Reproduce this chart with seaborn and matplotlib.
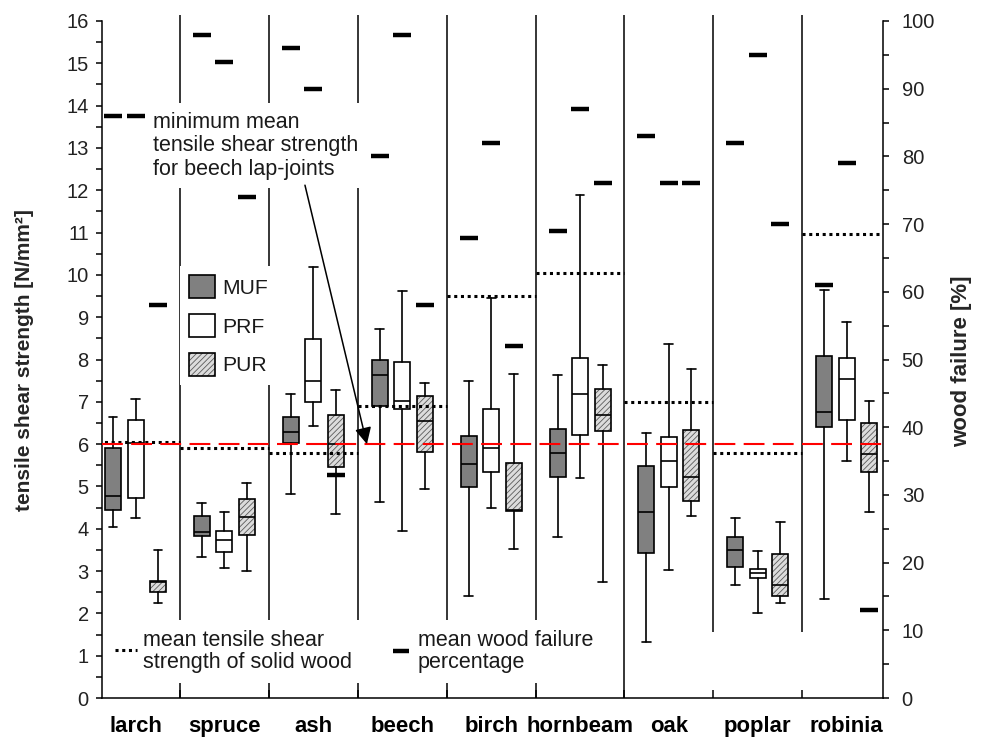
import numpy as np
import pandas as pd
import matplotlib
matplotlib.use("Agg")
import matplotlib.pyplot as plt
from matplotlib.patches import Patch
from matplotlib.legend_handler import HandlerTuple
from matplotlib.ticker import MultipleLocator, FixedLocator
import seaborn as sns

# ---------------- data ----------------
species = ["larch", "spruce", "ash", "beech", "birch", "hornbeam", "oak", "poplar", "robinia"]
adhesives = ["MUF", "PRF", "PUR"]

# tensile shear strength box statistics [N/mm²]
muf_whislo = [4.05, 3.34, 4.82, 4.64, 2.42, 3.81, 1.33, 2.68, 2.33]
muf_q1     = [4.44, 3.84, 6.02, 6.91, 4.99, 5.23, 3.42, 3.10, 6.41]
muf_med    = [4.78, 3.92, 6.28, 7.64, 5.52, 5.78, 4.40, 3.50, 6.76]
muf_q3     = [5.92, 4.29, 6.63, 7.99, 6.19, 6.35, 5.49, 3.81, 8.08]
muf_whishi = [6.63, 4.60, 7.18, 8.71, 7.50, 7.64, 6.27, 4.25, 9.64]

prf_whislo = [4.26, 3.08, 6.43, 3.95, 4.50, 5.21, 3.03, 2.02, 5.61]
prf_q1     = [4.72, 3.44, 6.99, 6.83, 5.35, 6.21, 4.99, 2.84, 6.56]
prf_med    = [6.02, 3.73, 7.50, 7.02, 5.90, 7.18, 5.59, 2.95, 7.54]
prf_q3     = [6.58, 3.95, 8.49, 7.93, 6.84, 8.04, 6.16, 3.04, 8.03]
prf_whishi = [7.07, 4.40, 10.19, 9.62, 9.46, 11.88, 8.37, 3.48, 8.89]

pur_whislo = [2.24, 3.01, 4.34, 4.94, 3.52, 2.75, 4.29, 2.24, 4.40]
pur_q1     = [2.50, 3.85, 5.47, 5.82, 4.42, 6.30, 4.66, 2.42, 5.34]
pur_med    = [2.73, 4.27, 6.00, 6.55, 4.44, 6.70, 5.23, 2.66, 5.76]
pur_q3     = [2.77, 4.70, 6.69, 7.14, 5.55, 7.31, 6.33, 3.40, 6.51]
pur_whishi = [3.50, 5.09, 7.28, 7.45, 7.65, 7.88, 7.78, 4.17, 7.03]

# mean wood failure percentage [%]
wf_muf = [86, 98, 96, 80, 68, 69, 83, 82, 61]
wf_prf = [86, 94, 90, 98, 82, 87, 76, 95, 79]
wf_pur = [58, 74, 33, 58, 52, 76, 76, 70, 13]

# mean tensile shear strength of solid wood [N/mm²]
solid_wood = [6.04, 5.92, 5.78, 6.91, 9.49, 10.05, 7.00, 5.78, 10.96]
# minimum mean tensile shear strength for beech lap-joints
min_beech = 6.0

# ---------------- style ----------------
sns.set_theme(style="ticks")
plt.rcParams["font.family"] = ["Liberation Sans", "DejaVu Sans"]
plt.rcParams["hatch.linewidth"] = 0.6

fig = plt.figure(figsize=(9.83, 7.39), dpi=100)
W, H = 983, 739
ax = fig.add_axes([102 / W, 1 - 698 / H, 781 / W, 677 / H])
ax2 = ax.twinx()

n = len(species)
xs = np.arange(n)
offsets = {"MUF": -0.253, "PRF": 0.0, "PUR": 0.253}
stats_src = {
    "MUF": (muf_whislo, muf_q1, muf_med, muf_q3, muf_whishi),
    "PRF": (prf_whislo, prf_q1, prf_med, prf_q3, prf_whishi),
    "PUR": (pur_whislo, pur_q1, pur_med, pur_q3, pur_whishi),
}
fills = {"MUF": "#808080", "PRF": "white", "PUR": "#dcdcdc"}

lw = 1.2
for adh in adhesives:
    lo, q1, med, q3, hi = stats_src[adh]
    stats = [dict(whislo=lo[i], q1=q1[i], med=med[i], q3=q3[i], whishi=hi[i], fliers=[])
             for i in range(n)]
    pos = xs + offsets[adh]
    if adh == "PUR":
        # hatched fill underneath
        ax.bxp(stats, positions=pos, widths=0.18, patch_artist=True, showfliers=False,
               showcaps=False, manage_ticks=False,
               boxprops=dict(facecolor=fills[adh], edgecolor="#5a5a5a", hatch="//////", linewidth=0),
               whiskerprops=dict(linewidth=0), medianprops=dict(linewidth=0), zorder=3)
        face = "none"
    else:
        face = fills[adh]
    ax.bxp(stats, positions=pos, widths=0.18, patch_artist=True, showfliers=False,
           manage_ticks=False, capwidths=0.1,
           boxprops=dict(facecolor=face, edgecolor="black", linewidth=lw),
           whiskerprops=dict(color="black", linewidth=lw),
           capprops=dict(color="black", linewidth=lw),
           medianprops=dict(color="black", linewidth=lw), zorder=4)

# separators between species
bounds = xs[:-1] + 0.5
ymins = [0, 0, 0, 0, 0, 0, 1.55, 1.55]
ax.vlines(bounds, ymins, 16.15, colors="black", linewidth=1.1, zorder=1, clip_on=False)

# solid wood means (dotted)
ax.hlines(solid_wood, xs - 0.5, xs + 0.5, colors="black", linewidth=2.2,
          linestyles=(0, (1, 1.2)), zorder=5)

# minimum strength (red dashed)
ax.axhline(min_beech, color="#ff0000", linewidth=1.5, dashes=(10, 4), zorder=6)

# wood failure markers on the right axis via seaborn
wf_df = pd.DataFrame({
    "pos": np.concatenate([xs + offsets[a] for a in adhesives]),
    "wf": np.concatenate([wf_muf, wf_prf, wf_pur]),
})
sns.scatterplot(data=wf_df, x="pos", y="wf", marker="_", s=150, linewidth=3.2,
                color="black", ax=ax2, legend=False, zorder=7)

# ---------------- axes ----------------
ax2.set_ylim(0, 100)
ax.set_ylim(0, 16)
ax.set_xlim(-0.377, 8.408)

ax.set_xticks(xs)
ax.set_xticklabels(species, fontsize=15.9, fontweight="bold")
ax.xaxis.set_minor_locator(FixedLocator(bounds))
ax.tick_params(axis="x", which="major", length=0, pad=13, colors="black")
ax.tick_params(axis="x", which="minor", length=6, width=1.1, direction="in", color="black")
ax2.tick_params(axis="x", which="both", bottom=False, top=False, labelbottom=False, labeltop=False)

ax.yaxis.set_major_locator(MultipleLocator(1))
ax.yaxis.set_minor_locator(MultipleLocator(0.5))
ax.tick_params(axis="y", which="both", length=4.5, width=1.1, direction="out",
               labelsize=14.5, pad=5, color="black", labelcolor="#222222")

ax2.yaxis.set_major_locator(MultipleLocator(10))
ax2.yaxis.set_minor_locator(MultipleLocator(5))
ax2.tick_params(axis="y", which="both", length=4.5, width=1.1, direction="out",
                labelsize=14.5, pad=9, color="black", labelcolor="#222222")
ax2.set_xlabel("")
ax2.set_ylabel("")
ax.set_xlabel("")
ax.set_ylabel("")

for s in ["top", "right"]:
    ax.spines[s].set_visible(False)
for s in ["top", "left", "bottom"]:
    ax2.spines[s].set_visible(False)
for a, s in [(ax, "left"), (ax, "bottom"), (ax2, "right")]:
    a.spines[s].set_color("black")
    a.spines[s].set_linewidth(1.1)

fig.text(25 / W, 1 - 360 / H, "tensile shear strength [N/mm²]", rotation=90,
         ha="center", va="center", fontsize=15, fontweight="bold")
fig.text(962 / W, 1 - 361 / H, "wood failure [%]", rotation=90,
         ha="center", va="center", fontsize=16, fontweight="bold")

# ---------------- annotations ----------------
txt_fs = 15.5
ax.text(0.193, 13.86, "minimum mean\ntensile shear strength\nfor beech lap-joints",
        ha="left", va="top", fontsize=txt_fs, linespacing=1.16, color="#1a1a1a",
        bbox=dict(boxstyle="square,pad=0.4", facecolor="white", edgecolor="none"),
        zorder=8, transform=ax.transData)
ax.annotate("", xy=(2.603, min_beech), xytext=(1.906, 12.12),
            arrowprops=dict(arrowstyle="-|>", color="black", lw=1.1, mutation_scale=25,
                            shrinkA=0, shrinkB=0), zorder=8)

ax.text(0.084, 1.10, "mean tensile shear\nstrength of solid wood", ha="left", va="center",
        fontsize=txt_fs, linespacing=1.05, color="#1a1a1a",
        bbox=dict(boxstyle="square,pad=0.45", facecolor="white", edgecolor="none"), zorder=8)
ax.hlines([1.13], -0.231, 0.016, colors="black", linewidth=2.2, linestyles=(0, (1, 1.2)), zorder=9)

ax.text(3.177, 1.10, "mean wood failure\npercentage", ha="left", va="center",
        fontsize=txt_fs, linespacing=1.05, color="#1a1a1a",
        bbox=dict(boxstyle="square,pad=0.45", facecolor="white", edgecolor="none"), zorder=8)
ax.plot([2.986], [1.11], marker="_", markersize=12.2, markeredgewidth=3.2, color="black", zorder=9)

# legend for adhesives
h_muf = Patch(facecolor=fills["MUF"], edgecolor="black", linewidth=lw)
h_prf = Patch(facecolor=fills["PRF"], edgecolor="black", linewidth=lw)
h_pur = (Patch(facecolor=fills["PUR"], edgecolor="#5a5a5a", hatch="//////", linewidth=0),
         Patch(facecolor="none", edgecolor="black", linewidth=lw))
leg = ax.legend([h_muf, h_prf, h_pur], adhesives, handler_map={tuple: HandlerTuple(ndivide=1, pad=0)},
                loc="upper left", bbox_to_anchor=((179.6 - 102) / 781, (698 - 265.6) / 677),
                borderaxespad=0, frameon=True, fancybox=False, framealpha=1,
                facecolor="white", edgecolor="none", fontsize=15.2,
                handlelength=1.25, handleheight=1.3, handletextpad=0.3,
                labelspacing=0.75, borderpad=0.45)
leg.set_zorder(8)
for t in leg.get_texts():
    t.set_color("#1a1a1a")

fig.savefig("out.png", dpi=100)
